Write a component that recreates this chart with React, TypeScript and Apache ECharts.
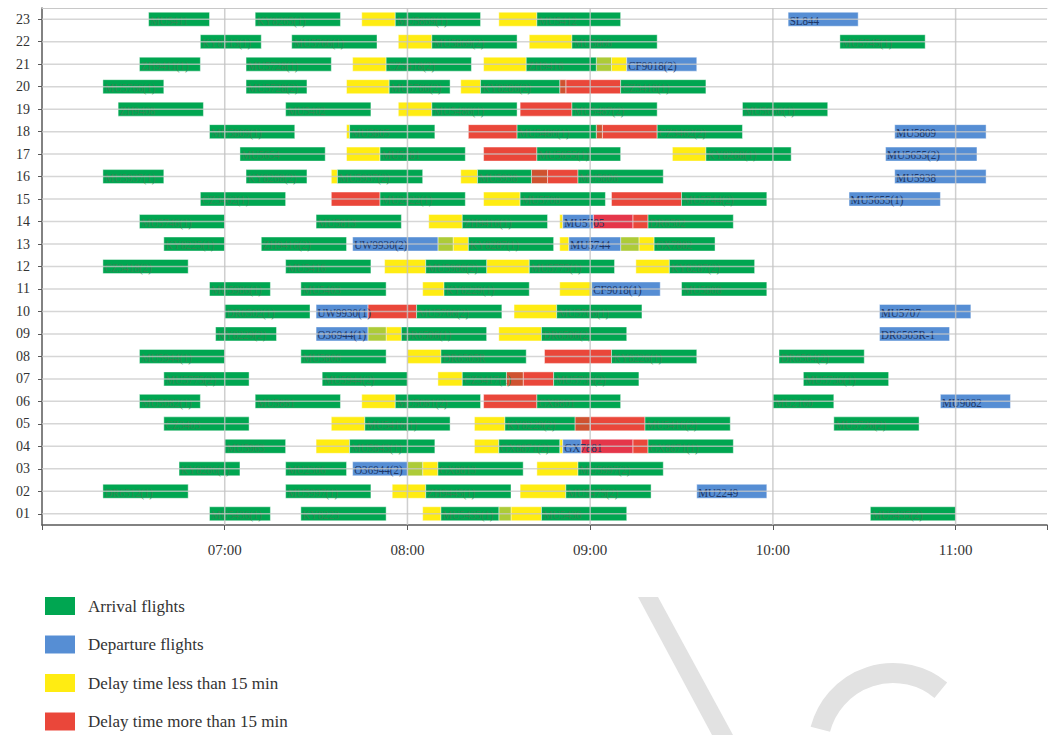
import React, { useEffect, useRef } from "react";
import * as echarts from "echarts";

// Row categories (bottom to top)
const rowLabels = ["01","02","03","04","05","06","07","08","09","10","11","12","13","14","15","16","17","18","19","20","21","22","23"];

// Legend / series names
const seriesNames = ["Arrival flights", "Departure flights", "Delay time less than 15 min", "Delay time more than 15 min"];

// Arrival flights (green): [row, start, end, flight]
const arrivals: [string, string, string, string][] = [
  ["23","06:35","06:55","MU5411"],["23","07:10","07:38","KY8265(1)"],["23","07:56","08:24","MU5869(1)"],["23","08:42.5","09:10","MU5412"],
  ["22","06:52","07:12","KY8213(1)"],["22","07:22","07:50","MU5766(1)"],["22","08:08","08:36","MU5869(2)"],["22","08:54","09:22","MU5866"],["22","10:22","10:50","MU5745(1)"],
  ["21","06:32","06:52","ZH9411(1)"],["21","07:07","07:35","MU5728(1)"],["21","07:53","08:21","CZ3418(2)"],["21","08:39","09:02","ZH9416"],
  ["20","06:20","06:40","MU5766(1)"],["20","07:07","07:27","MU5728(2)"],["20","07:54","08:14","MU5766(2)"],["20","08:24","08:50","KY8286(2)"],["20","09:10","09:38","CZ3418(1)"],
  ["19","06:25","06:53","ZH9408"],["19","07:20","07:48","MU5402"],["19","08:08","08:36","MU5486(1)"],["19","08:54","09:22","MU5487(2)"],["19","09:50","10:18","MU5656(1)"],
  ["18","06:55","07:23","MU5809(1)"],["18","07:41","08:09","MU5805"],["18","08:36","09:02","MU5486(1)"],["18","09:22","09:50","CZ3462(2)"],
  ["17","07:05","07:33","MU5654"],["17","07:51","08:19","MU5781"],["17","08:42.5","09:10","MU5655(1)"],["17","09:38","10:06","KY8268(1)"],
  ["16","06:20","06:40","MU5937(1)"],["16","07:07","07:27","KY8268(2)"],["16","07:37","08:05","MU5937(2)"],["16","08:23","08:40.7","MU5938"],["16","08:56","09:24","MU5806"],
  ["15","06:52","07:20","CZ3462(1)"],["15","07:51","08:19","MU2422(1)"],["15","08:37","09:05","MU5708"],["15","09:30","09:58","MU5744(2)"],
  ["14","06:32","07:00","MU5746(1)"],["14","07:30","07:58","MU5813"],["14","08:18","08:46","ZH9416(1)"],["14","09:19","09:47","DR6502"],
  ["13","06:40","07:00","KY8225(1)"],["13","07:12","07:40","ZH9416(2)"],["13","08:20","08:48","KY8287(1)"],["13","09:21","09:41","GX7882"],
  ["12","06:20","06:48","CZ3418(2)"],["12","07:20","07:48","MU5416"],["12","08:06","08:26","MU5986(2)"],["12","08:40","09:08","MU5775(1)"],["12","09:26","09:54","KY8287(2)"],
  ["11","06:55","07:15","MU5986(1)"],["11","07:25","07:53","MU5403"],["11","08:12","08:40","KY8229(1)"],["11","09:30","09:58","MU5808"],
  ["10","07:00","07:28","DR6502(1)"],["10","08:03","08:31","MU5706(2)"],["10","08:49","09:17","MU5706(1)"],
  ["09","06:57","07:17","KY8229(2)"],["09","07:58","08:26","DR6506(1)"],["09","08:44","09:12","DR6506(2)"],
  ["08","06:32","07:00","MU5944(1)"],["08","07:25","07:53","MU5806"],["08","08:11","08:39","DR6505R"],["08","09:07","09:35","KY8226(1)"],["08","10:02","10:30","DR6504(2)"],
  ["07","06:40","07:08","MU5775(2)"],["07","07:32","08:00","MU5944(2)"],["07","08:18","08:32.5","CZ3417(1)"],["07","08:48","09:16","MU5736(2)"],["07","10:10","10:38","MU5736(1)"],
  ["06","06:32","06:52","MU5082(1)"],["06","07:10","07:38","MU5881"],["06","07:56","08:24","MU5081(2)"],["06","08:42.5","09:10","GX8801"],["06","10:00","10:20","MU2160"],
  ["05","06:40","07:08","CZ3403"],["05","07:46","08:14","MU5416(1)"],["05","08:32","08:55","KY8229(2)"],["05","09:18","09:46","MU5416(2)"],["05","10:20","10:48","MU5736(2)"],
  ["04","07:00","07:20","MU5963"],["04","07:41","08:09","MU5843(1)"],["04","08:30","08:50","GX8871(2)"],["04","09:19","09:47","GX8871(1)"],
  ["03","06:45","07:05","KY8286(1)"],["03","07:20","07:40","MU2306"],["03","08:10","08:38","GX8813"],["03","08:56","09:24","MU5997(2)"],
  ["02","06:20","06:48","DR6512(1)"],["02","07:20","07:48","MU5997(1)"],["02","08:06","08:34","ZH9445(1)"],["02","08:52","09:20","MU5475(2)"],
  ["01","06:55","07:15","MU5436(1)"],["01","07:25","07:53","KY8223"],["01","08:11","08:30","MU5435(1)"],["01","08:44","09:12","MU5436"],["01","10:32","11:00","MU5435(2)"],
];

// Departure flights (blue): [row, start, end, flight]
const departures: [string, string, string, string][] = [
  ["23","10:05","10:28","SL844"],
  ["21","09:12","09:35","CF9018(2)"],
  ["18","10:40","11:10","MU5809"],
  ["17","10:37","11:07","MU5655(2)"],
  ["16","10:40","11:10","MU5938"],
  ["15","10:25","10:55","MU5655(1)"],
  ["14","08:51","09:01","MU5705"],
  ["13","07:42","08:10","UW9930(2)"],["13","08:53","09:10","MU5744"],
  ["11","09:00.5","09:23","CF9018(1)"],
  ["10","07:30","07:47","UW9930(1)"],["10","10:35","11:05","MU5707"],
  ["09","07:30","07:47","O36944(1)"],["09","10:35","10:58","DR6505R-1"],
  ["06","10:55","11:18","MU9082"],
  ["04","08:51","08:57","GX7881"],
  ["03","07:42","08:00","O36944(2)"],
  ["02","09:35","09:58","MU2249"],
];

// Delay < 15 min (yellow): [row, start, end]
const shortDelays: [string, string, string][] = [
  ["23","07:45","07:56"],["23","08:30","08:42.5"],
  ["22","07:57","08:08"],["22","08:40","08:54"],
  ["21","07:42","07:53"],["21","08:25","08:39"],["21","09:07","09:12"],
  ["20","07:40","07:54"],["20","08:17.5","08:24"],
  ["19","07:57","08:08"],
  ["18","07:40","07:41"],
  ["17","07:40","07:51"],["17","09:27","09:38"],
  ["16","07:35","07:37"],["16","08:17.5","08:23"],
  ["15","08:25","08:37"],
  ["14","08:07","08:18"],["14","08:50","08:51"],
  ["13","08:15","08:20"],["13","08:50","08:53"],["13","09:16","09:21"],
  ["12","07:52.5","08:06"],["12","08:26","08:40"],["12","09:15","09:26"],
  ["11","08:05","08:12"],["11","08:50","09:00.5"],
  ["10","08:35","08:49"],
  ["09","07:53","07:58"],["09","08:30","08:44"],
  ["08","08:00","08:11"],
  ["07","08:10","08:18"],
  ["06","07:45","07:56"],
  ["05","07:35","07:46"],["05","08:22","08:32"],
  ["04","07:30","07:41"],["04","08:22","08:30"],["04","08:50","08:51"],
  ["03","08:05","08:10"],["03","08:42.5","08:56"],
  ["02","07:55","08:06"],["02","08:37","08:52"],
  ["01","08:05","08:11"],["01","08:34","08:44"],
];

// Short delay overlapping a turnaround (olive): [row, start, end]
const shortOverlaps: [string, string, string][] = [
  ["21","09:02","09:07"],["13","08:10","08:15"],["13","09:10","09:16"],
  ["09","07:47","07:53"],["03","08:00","08:05"],["01","08:30","08:34"],
];

// Delay > 15 min (red): [row, start, end]
const longDelays: [string, string, string][] = [
  ["20","08:52","09:10"],
  ["19","08:37","08:54"],
  ["18","08:20","08:36"],["18","09:04","09:22"],
  ["17","08:25","08:42.5"],
  ["16","08:46","08:56"],
  ["15","07:35","07:51"],["15","09:07","09:30"],
  ["14","09:14","09:19"],
  ["10","07:47","08:03"],
  ["08","08:45","09:07"],
  ["07","08:38","08:48"],
  ["06","08:25","08:42.5"],
  ["05","09:00","09:18"],
  ["04","09:14","09:19"],
];

// Long delay overlapping an arrival (dark orange): [row, start, end]
const longOverlaps: [string, string, string][] = [
  ["20","08:50","08:52"],["18","09:02","09:04"],["16","08:40.7","08:46"],["07","08:32.5","08:38"],["05","08:55","09:00"],
];

// Long delay overlapping a departure (crimson): [row, start, end]
const longDepOverlaps: [string, string, string][] = [
  ["14","09:01","09:14"],["04","08:57","09:14"],
];

const hourLines = ["07:00","08:00","09:00","10:00","11:00"];

const C_GREEN = "#00A651";
const C_BLUE = "#568ED4";
const C_YELLOW = "#FFEC12";
const C_RED = "#EA473A";
const C_OLIVE = "#ADCB38";
const C_DARKRED = "#CF5230";
const C_CRIMSON = "#E5364A";

const toMin = (s: string) => {
  const [h, m] = s.split(":");
  return parseFloat(h) * 60 + parseFloat(m);
};
const fmtTime = (v: number) => {
  const h = Math.floor(v / 60);
  const m = Math.round(v - h * 60);
  return (h < 10 ? "0" : "") + h + ":" + (m < 10 ? "0" : "") + m;
};
const rowIdx = (r: string) => rowLabels.indexOf(r);

const BAR_H = 14;
const FONT = "'Liberation Serif', 'Times New Roman', serif";

function makeRender(fills: string[], labels: (string | null)[], textColor: string, fontSize: number) {
  return (params: any, api: any) => {
    const y = api.value(0);
    const p0 = api.coord([api.value(1), y]);
    const p1 = api.coord([api.value(2), y]);
    const children: any[] = [
      {
        type: "rect",
        shape: { x: p0[0], y: p0[1] - BAR_H / 2, width: p1[0] - p0[0], height: BAR_H },
        style: { fill: fills[params.dataIndex], stroke: "rgba(255,255,255,0.55)", lineWidth: 0.8 },
      },
    ];
    const lbl = labels[params.dataIndex];
    if (lbl) {
      children.push({
        type: "text",
        x: p0[0] + 1.5,
        y: p0[1] + 1,
        scaleX: 0.82,
        style: {
          text: lbl,
          x: 0,
          y: 0,
          align: "left",
          verticalAlign: "middle",
          fill: textColor,
          fontSize,
          fontFamily: FONT,
        },
      });
    }
    return { type: "group", children };
  };
}

function buildSeries(
  name: string,
  color: string,
  groups: { items: [string, string, string, ...any[]][]; fill: string; labelled: boolean }[],
  textColor: string,
  fontSize: number,
  z: number
) {
  const data: number[][] = [];
  const fills: string[] = [];
  const labels: (string | null)[] = [];
  groups.forEach((g) => {
    g.items.forEach((it) => {
      data.push([rowIdx(it[0]), toMin(it[1]), toMin(it[2])]);
      fills.push(g.fill);
      labels.push(g.labelled ? (it[3] as string) : null);
    });
  });
  return {
    name,
    type: "custom",
    z,
    itemStyle: { color },
    encode: { x: [1, 2], y: 0 },
    renderItem: makeRender(fills, labels, textColor, fontSize),
    data,
  };
}

export default function App() {
  const ref = useRef<HTMLDivElement>(null);
  useEffect(() => {
    if (!ref.current) return;
    const chart = echarts.init(ref.current, undefined, { renderer: "svg" });

    const hLineData = rowLabels.map((_, i) => [360, i]);
    const vLineData = hourLines.map((h) => [toMin(h), 0]);

    const option: any = {
      animation: false,
      backgroundColor: "#ffffff",
      grid: { left: 42, right: 2, top: 8, bottom: 210 },
      legend: {
        orient: "vertical",
        left: 45,
        top: 597,
        padding: 0,
        itemWidth: 30,
        itemHeight: 18,
        itemGap: 20.5,
        icon: "rect",
        selectedMode: false,
        textStyle: { fontSize: 17, lineHeight: 18, fontFamily: FONT, color: "#333", padding: [0, 0, 0, 8] },
        data: seriesNames,
      },
      xAxis: [
        {
          type: "value",
          min: 360,
          max: 690,
          interval: 60,
          axisLine: { show: true, lineStyle: { color: "#595959", width: 1.5 } },
          axisTick: { show: true, length: 5, lineStyle: { color: "#595959" } },
          axisLabel: {
            formatter: (v: number) => (v === 360 || v % 60 !== 0 ? "" : fmtTime(v)),
            fontSize: 15,
            fontFamily: FONT,
            color: "#333",
            margin: 17,
          },
          splitLine: { show: false },
        },
        {
          type: "value",
          position: "top",
          min: 360,
          max: 690,
          axisLine: { show: true, lineStyle: { color: "#c8c8c8", width: 1 } },
          axisTick: { show: false },
          axisLabel: { show: false },
          splitLine: { show: false },
        },
      ],
      yAxis: {
        type: "category",
        data: rowLabels,
        axisLine: { show: true, lineStyle: { color: "#595959", width: 1.5 } },
        axisTick: { show: true, alignWithLabel: true, length: 4, lineStyle: { color: "#595959" } },
        axisLabel: { fontSize: 14, fontFamily: FONT, color: "#333", margin: 12 },
        splitLine: { show: false },
      },
      series: [
        buildSeries(seriesNames[0], C_GREEN, [{ items: arrivals, fill: C_GREEN, labelled: true }], "#2E8A52", 13, 3),
        buildSeries(seriesNames[1], C_BLUE, [{ items: departures, fill: C_BLUE, labelled: true }], "#1E3766", 13.5, 4),
        buildSeries(
          seriesNames[2],
          C_YELLOW,
          [
            { items: shortDelays, fill: C_YELLOW, labelled: false },
            { items: shortOverlaps, fill: C_OLIVE, labelled: false },
          ],
          "#333",
          12,
          2
        ),
        buildSeries(
          seriesNames[3],
          C_RED,
          [
            { items: longDelays, fill: C_RED, labelled: false },
            { items: longOverlaps, fill: C_DARKRED, labelled: false },
            { items: longDepOverlaps, fill: C_CRIMSON, labelled: false },
          ],
          "#333",
          12,
          2
        ),
        {
          name: "hgrid",
          type: "custom",
          z: 6,
          silent: true,
          encode: { x: 0, y: 1 },
          data: hLineData,
          renderItem: (params: any, api: any) => {
            const p = api.coord([360, api.value(1)]);
            const cs = params.coordSys;
            return {
              type: "line",
              shape: { x1: cs.x, y1: p[1], x2: cs.x + cs.width, y2: p[1] },
              style: { stroke: "rgba(200,200,200,0.75)", lineWidth: 1.5 },
            };
          },
        },
        {
          name: "vgrid",
          type: "custom",
          z: 6,
          silent: true,
          encode: { x: 0, y: 1 },
          data: vLineData,
          renderItem: (params: any, api: any) => {
            const p = api.coord([api.value(0), 0]);
            const cs = params.coordSys;
            return {
              type: "line",
              shape: { x1: p[0], y1: cs.y, x2: p[0], y2: cs.y + cs.height },
              style: { stroke: "rgba(195,195,195,0.8)", lineWidth: 1.5 },
            };
          },
        },
      ],
      graphic: [
        {
          type: "polygon",
          silent: true,
          z: -1,
          shape: { points: [[638, 597], [658, 597], [733, 735], [712, 735]] },
          style: { fill: "#e2e2e2" },
        },
        {
          type: "arc",
          silent: true,
          z: -1,
          shape: { cx: 893, cy: 748, r: 75, startAngle: Math.PI * 1.08, endAngle: Math.PI * 1.72 },
          style: { stroke: "#e2e2e2", lineWidth: 20, fill: "none" },
        },
      ],
    };
    chart.setOption(option);
    return () => chart.dispose();
  }, []);

  return (
    <div
      ref={ref}
      style={{ position: "fixed", left: 0, top: 0, width: 1050, height: 735, background: "#fff" }}
    />
  );
}
